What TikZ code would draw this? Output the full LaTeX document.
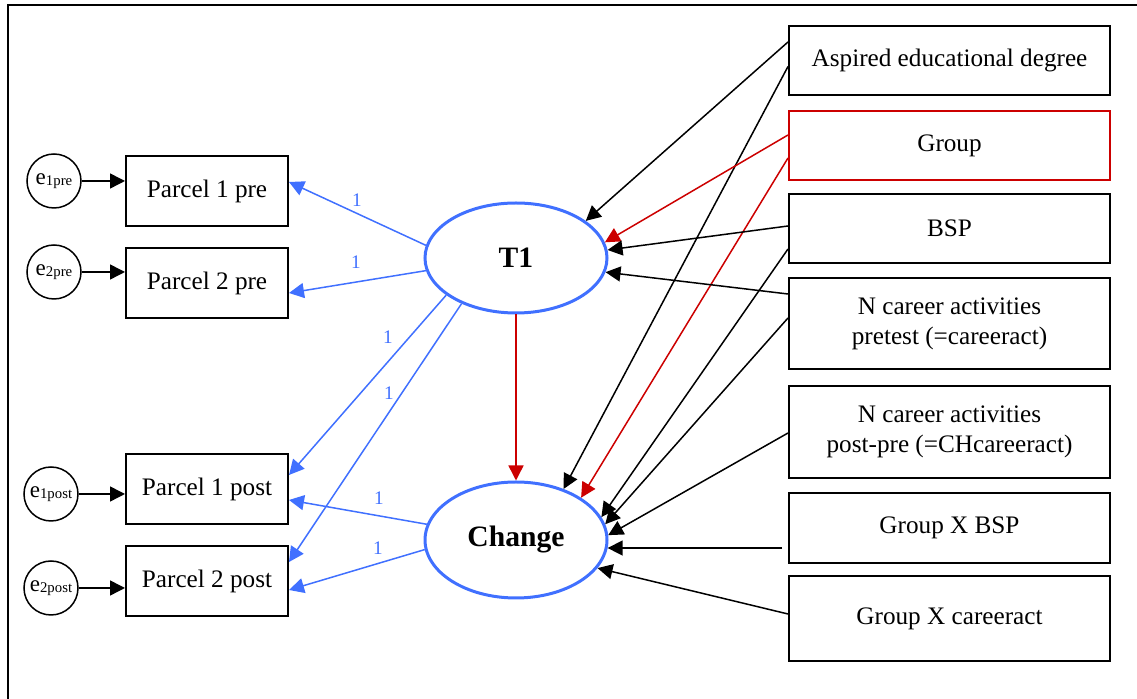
\documentclass[tikz,border=0pt]{standalone}
\usepackage{fontspec}
\setmainfont{Liberation Serif}
\usetikzlibrary{arrows.meta,shapes.geometric,calc}
\definecolor{loadblue}{RGB}{64,112,255}
\definecolor{keyred}{RGB}{204,0,0}
\newcommand{\errtext}[1]{{\fontsize{11.5}{12}\selectfont e\raisebox{-0.8pt}{\fontsize{7.4}{8}\selectfont #1}}}
\tikzset{
  obsbox/.style={draw, line width=1pt, inner sep=0pt, align=center, font=\fontsize{12.6}{15}\selectfont},
  latent/.style={ellipse, draw=loadblue, line width=1.5pt, minimum width=91pt, inner sep=0pt, font=\fontsize{14.8}{18}\selectfont\bfseries},
  errnode/.style={circle, draw, line width=0.75pt, minimum size=27pt, inner sep=0pt},
  pth/.style={line width=0.75pt, -{Triangle[length=7.5pt,width=7.5pt]}},
  wlabel/.style={text=loadblue, font=\fontsize{9.6}{10}\selectfont, inner sep=0pt}
}
\begin{document}
\begin{tikzpicture}[x=0.5pt,y=-0.5pt]
    \useasboundingbox (0,0) rectangle (1137,699);
    \draw[line width=1pt] (8,710) -- (8,5) -- (1145,5);
    % latent factors
    \node[latent, minimum height=55pt] (T1) at (516,258) {T1};
    \node[latent, minimum height=58pt] (Change) at (516,540) {Change};
    % parcels and their errors
    \foreach \k/\yc/\txt in {1pre/191/Parcel 1 pre,2pre/283/Parcel 2 pre,1post/489/Parcel 1 post,2post/581/Parcel 2 post} {
        \node[obsbox, minimum width=81pt, minimum height=35pt] (p\k) at (207,\yc) {\txt};
    }
    \foreach \k/\xc/\yc in {1pre/54/181,2pre/54/272,1post/51/494,2post/51/588} {
        \node[errnode] (err\k) at (\xc,\yc) {\errtext{\k}};
        \draw[pth] (err\k) -- (err\k -| p\k.west);
    }
    % predictors
    \foreach \nm/\yc/\hh/\col/\txt in {aspired/60.5/34.5/black/Aspired educational degree,
        group/145.5/34.5/keyred/Group, bsp/228.5/34.5/black/BSP,
        careeract/323.5/45.5/black/{N career activities\\pretest (=careeract)},
        chcareer/432/46/black/{N career activities\\post-pre (=CHcareeract)},
        gxbsp/528/35/black/Group X BSP, gxcareer/618.5/42.5/black/Group X careeract} {
        \node[obsbox, draw=\col, minimum width=160.5pt, minimum height=\hh pt] (\nm) at (949.5,\yc) {\txt};
    }
    % loadings
    \foreach \a/\p/\dy in {172/p1pre/-9,188/p2pre/10,208/p1post/-14,220/p2post/-19} {
        \draw[pth, loadblue] (T1.\a) -- ($(\p.east)+(0,\dy)$);
    }
    \foreach \a/\p/\dy in {170/p1post/11,186/p2post/9} {
        \draw[pth, loadblue] (Change.\a) -- ($(\p.east)+(0,\dy)$);
    }
    \node[wlabel] (w1) at (357,200) {1};
    \node[wlabel] (w2) at (356,262) {1};
    \node[wlabel] (w3) at (388,337) {1};
    \node[wlabel] (w4) at (389,393) {1};
    \node[wlabel] (w5) at (379,498) {1};
    \node[wlabel] (w6) at (378,548) {1};
    % regressions
    \draw[pth, keyred] (T1.south) -- (Change.north);
    \foreach \nm/\dy/\dst/\a/\col in {aspired/-18.5/T1/28/black, aspired/6/Change/47/black,
        group/-10.5/T1/10/keyred, group/12.5/Change/33/keyred,
        bsp/-2.5/T1/5/black, bsp/20.5/Change/15/black,
        careeract/-29.5/T1/351/black, careeract/-5.5/Change/10/black,
        chcareer/1/Change/3/black, gxcareer/-4.5/Change/341/black} {
        \draw[pth, \col] ($(\nm.west)+(0,\dy)$) -- (\dst.\a);
    }
    \coordinate (gxbsp-out) at ($(gxbsp.west)+(-6,0)$);
    \draw[pth] (gxbsp-out |- Change.355) -- (Change.355);
\end{tikzpicture}
\end{document}
